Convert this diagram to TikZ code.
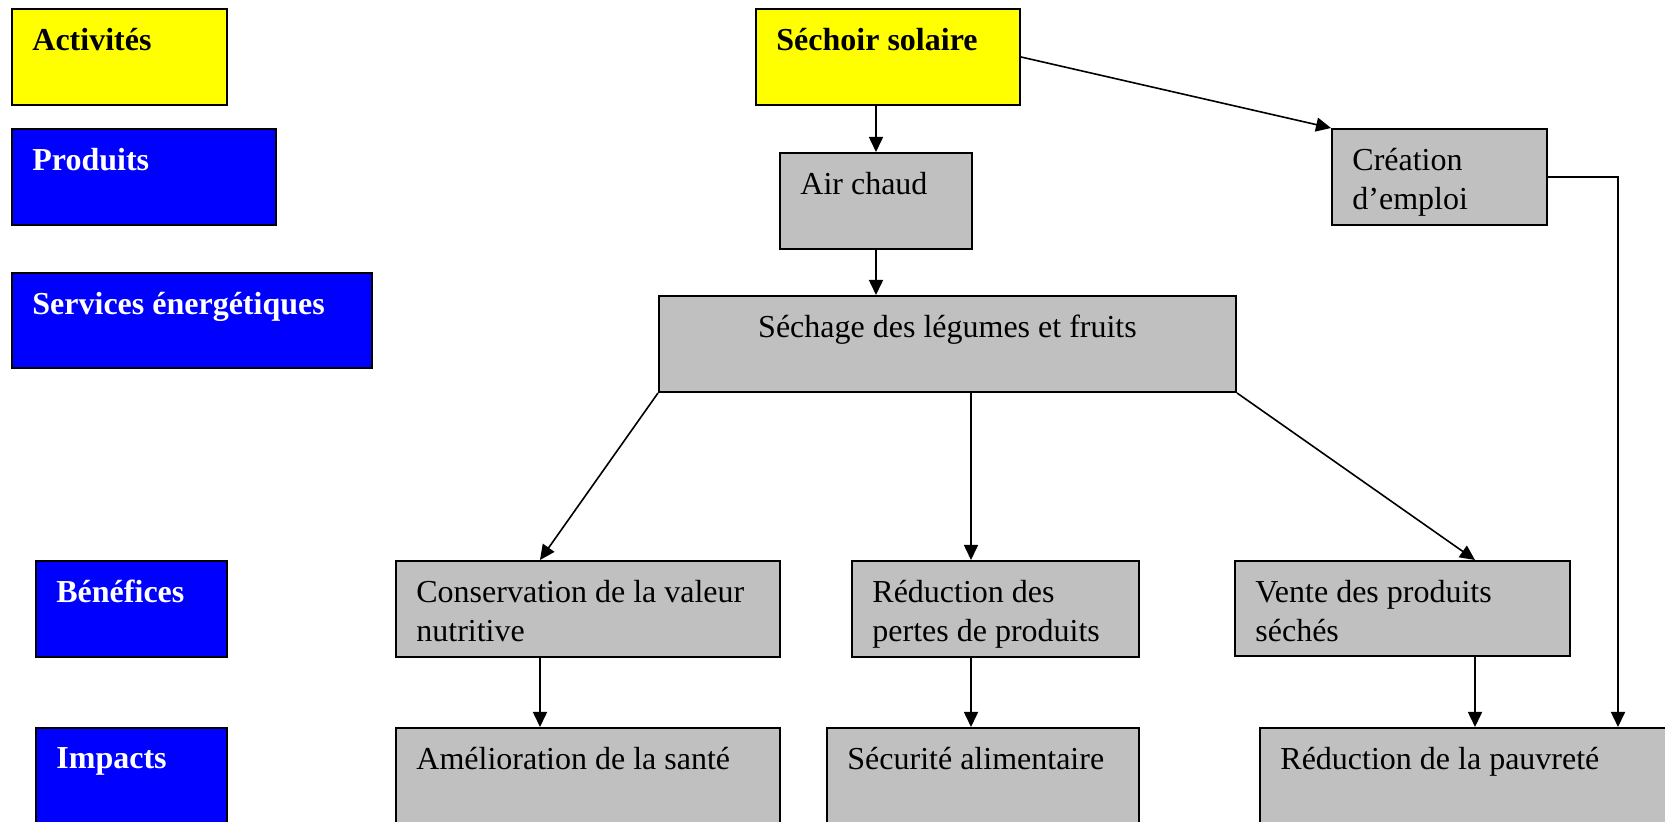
\documentclass[tikz,border=0pt]{standalone}
\usepackage{fontspec}
\setmainfont{Liberation Serif}
\usetikzlibrary{arrows.meta}
\definecolor{grisbox}{RGB}{192,192,192}
\definecolor{jaunebox}{RGB}{255,255,0}
\definecolor{bleubox}{RGB}{0,0,255}

\begin{document}
\begin{tikzpicture}[x=0.5pt,y=-0.5pt,
    box/.style={draw,line width=1pt,anchor=north west,inner sep=0pt},
    jaune/.style={box,fill=jaunebox},
    bleu/.style={box,fill=bleubox},
    gris/.style={box,fill=grisbox},
    lab/.style={anchor=north west,inner sep=0pt,xshift=10.5pt,yshift=-10pt,
        font=\fontsize{16}{19.5}\selectfont,align=left},
    labc/.style={anchor=north,inner sep=0pt,yshift=-10pt,
        font=\fontsize{16}{19.5}\selectfont},
    titre/.style={lab,font=\fontsize{16}{19.5}\selectfont\bfseries},
    blanc/.style={titre,text=white},
    arr/.style={-{Triangle[length=7.5pt,width=7pt]},line width=0.8pt}]
    \clip (0,0) rectangle (1665,822);

    \node[jaune,minimum width=107.5pt,minimum height=48pt,label={[titre]north west:Activités}] (act) at (11,8) {};
    \node[bleu,minimum width=132pt,minimum height=48pt,label={[blanc]north west:Produits}] (prod) at (11,128) {};
    \node[bleu,minimum width=180pt,minimum height=47.5pt,label={[blanc]north west:Services énergétiques}] (serv) at (11,272) {};
    \node[bleu,minimum width=95.5pt,minimum height=48pt,label={[blanc]north west:Bénéfices}] (bene) at (35,560) {};
    \node[bleu,minimum width=95.5pt,minimum height=60pt,label={[blanc]north west:Impacts}] (imp) at (35,727) {};

    \node[jaune,minimum width=132pt,minimum height=48pt,label={[titre]north west:Séchoir solaire}] (sechoir) at (755,8) {};
    \node[gris,minimum width=96pt,minimum height=48pt,label={[lab]north west:Air chaud}] (air) at (779,152) {};
    \node[gris,minimum width=107.5pt,minimum height=48pt,label={[lab]north west:{Création\\d’emploi}}] (emploi) at (1331,128) {};
    \node[gris,minimum width=288.5pt,minimum height=48pt,label={[labc]north:Séchage des légumes et fruits}] (sechage) at (658,295) {};

    \node[gris,minimum width=192pt,minimum height=48pt,label={[lab]north west:{Conservation de la valeur\\nutritive}}] (cons) at (395,560) {};
    \node[gris,minimum width=143.5pt,minimum height=48pt,label={[lab]north west:{Réduction des\\pertes de produits}}] (pertes) at (851,560) {};
    \node[gris,minimum width=167.5pt,minimum height=47.5pt,label={[lab]north west:{Vente des produits\\séchés}}] (vente) at (1234,560) {};

    \node[gris,minimum width=192pt,minimum height=60pt,label={[lab]north west:Amélioration de la santé}] (sante) at (395,727) {};
    \node[gris,minimum width=156pt,minimum height=60pt,label={[lab]north west:Sécurité alimentaire}] (secu) at (826,727) {};
    \node[gris,minimum width=210pt,minimum height=60pt,label={[lab]north west:Réduction de la pauvreté}] (pauv) at (1259,727) {};

    \coordinate (colA) at (540,0);
    \coordinate (colB) at (971,0);
    \coordinate (colC) at (1475,0);
    \coordinate (colD) at (1618,0);

    \draw[arr] (air.north |- sechoir.south) -- (air.north);
    \draw[arr] (sechoir.east) -- (emploi.north west);
    \draw[arr] (air.south) -- (air.south |- sechage.north);
    \draw[arr] (emploi.east) -| (colD |- pauv.north);
    \draw[arr] (sechage.south west) -- (colA |- cons.north);
    \draw[arr] (colB |- sechage.south) -- (colB |- pertes.north);
    \draw[arr] (sechage.south east) -- (colC |- vente.north);
    \draw[arr] (colA |- cons.south) -- (colA |- sante.north);
    \draw[arr] (colB |- pertes.south) -- (colB |- secu.north);
    \draw[arr] (colC |- vente.south) -- (colC |- pauv.north);
\end{tikzpicture}
\end{document}
